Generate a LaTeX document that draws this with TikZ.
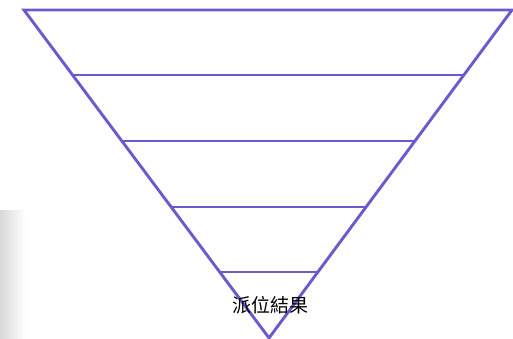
\documentclass[tikz,border=0pt]{standalone}
\usepackage{fontspec}
\newfontfamily\cjk{Noto Sans CJK TC}
\usetikzlibrary{calc}
\definecolor{funnelline}{HTML}{6A5ACD}
\tikzset{
  funnel/.style={draw=funnelline, line width=2.9pt, line join=miter},
  band/.style={draw=funnelline, line width=2.9pt},
  label/.style={font=\cjk\fontsize{19}{21}\selectfont, text=black, inner sep=0pt}
}

\begin{document}
\begin{tikzpicture}[x=1pt,y=-1pt]
\useasboundingbox (0,0) rectangle (513,339);
\shade[left color=black!15, right color=white] (0,210) rectangle (25,339);
\coordinate (tl) at (24,10);
\coordinate (tr) at (512,10);
\coordinate (apex) at (269,338);
\draw[funnel] (tl) -- (tr) -- (apex) -- cycle;
\foreach \y in {75,141,207,272} {
  \draw[band] ($(tl)!{(\y-10)/328}!(apex)$) -- ($(tr)!{(\y-10)/328}!(apex)$);
}
\node[label] (result) at (270,305) {派位結果};
\end{tikzpicture}
\end{document}
